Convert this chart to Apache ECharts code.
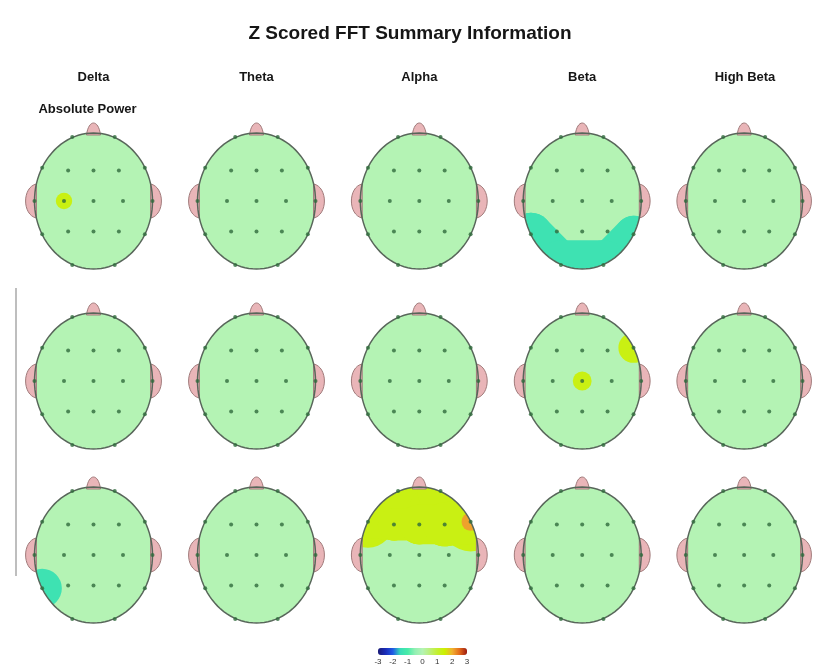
<!DOCTYPE html>
<html><head><meta charset="utf-8">
<script src="https://cdn.jsdelivr.net/npm/echarts@6/dist/echarts.min.js"></script>
<style>html,body{margin:0;padding:0;background:#fff}#c{width:820px;height:670px}</style>
</head><body><div id="c"></div><script>
// ---------------- data ----------------
const chartTitle = 'Z Scored FFT Summary Information';
const bands = ['Delta', 'Theta', 'Alpha', 'Beta', 'High Beta'];
const rowLabels = ['Absolute Power', '', ''];
const electrodes = ['Fp1','Fp2','F7','F3','Fz','F4','F8','T3','C3','Cz','C4','T4','T5','P3','Pz','P4','T6','O1','O2'];
// 10-20 montage positions on a unit head (x right, y towards nose)
const electrodeX = [-0.36, 0.36, -0.87, -0.43, 0, 0.43, 0.87, -1, -0.5, 0, 0.5, 1, -0.87, -0.43, 0, 0.43, 0.87, -0.36, 0.36];
const electrodeY = [0.94, 0.94, 0.49, 0.45, 0.45, 0.45, 0.49, 0, 0, 0, 0, 0, -0.49, -0.45, -0.45, -0.45, -0.49, -0.94, -0.94];
const scaleTicks = ['-3', '-2', '-1', '0', '1', '2', '3'];

// Z scores per electrode (order of `electrodes`)
//                  Fp1  Fp2  F7   F3   Fz   F4   F8   T3  C3    Cz   C4  T4  T5    P3 Pz P4 T6    O1    O2
const zR1Delta  = [0,   0,   0,   0,   0,   0,   0,   0,  1.06, 0,   0,  0,  0,    0, 0, 0, 0,    0,    0];
const zR1Theta  = [0,   0,   0,   0,   0,   0,   0,   0,  0,    0,   0,  0,  0,    0, 0, 0, 0,    0,    0];
const zR1Alpha  = [0,   0,   0,   0,   0,   0,   0,   0,  0,    0,   0,  0,  0,    0, 0, 0, 0,    0,    0];
const zR1Beta   = [0,   0,   0,   0,   0,   0,   0,   0,  0,    0,   0,  0, -1.5,  0, 0, 0, -1.35, -1.7, -1.7];
const zR1HiBeta = [0,   0,   0,   0,   0,   0,   0,   0,  0,    0,   0,  0,  0,    0, 0, 0, 0,    0,    0];
const zR2Delta  = [0,   0,   0,   0,   0,   0,   0,   0,  0,    0,   0,  0,  0,    0, 0, 0, 0,    0,    0];
const zR2Theta  = [0,   0,   0,   0,   0,   0,   0,   0,  0,    0,   0,  0,  0,    0, 0, 0, 0,    0,    0];
const zR2Alpha  = [0,   0,   0,   0,   0,   0,   0,   0,  0,    0,   0,  0,  0,    0, 0, 0, 0,    0,    0];
const zR2Beta   = [0,   0,   0,   0,   0,   0,   1.22,0,  0,    1.08,0,  0,  0,    0, 0, 0, 0,    0,    0];
const zR2HiBeta = [0,   0,   0,   0,   0,   0,   0,   0,  0,    0,   0,  0,  0,    0, 0, 0, 0,    0,    0];
const zR3Delta  = [0,   0,   0,   0,   0,   0,   0,   0,  0,    0,   0,  0, -1.4,  0, 0, 0, 0,    0,    0];
const zR3Theta  = [0,   0,   0,   0,   0,   0,   0,   0,  0,    0,   0,  0,  0,    0, 0, 0, 0,    0,    0];
const zR3Alpha  = [1.6, 1.6, 1.8, 1.25,1.41,1.52,2.15,0,  0,    0,   0,  0,  0,    0, 0, 0, 0,    0,    0];
const zR3Beta   = [0,   0,   0,   0,   0,   0,   0,   0,  0,    0,   0,  0,  0,    0, 0, 0, 0,    0,    0];
const zR3HiBeta = [0,   0,   0,   0,   0,   0,   0,   0,  0,    0,   0,  0,  0,    0, 0, 0, 0,    0,    0];

const maps = [
  [zR1Delta, zR1Theta, zR1Alpha, zR1Beta, zR1HiBeta],
  [zR2Delta, zR2Theta, zR2Alpha, zR2Beta, zR2HiBeta],
  [zR3Delta, zR3Theta, zR3Alpha, zR3Beta, zR3HiBeta]
];

// ---------------- rendering setup ----------------
const FONT = 'Liberation Sans, Arial, sans-serif';
const COL_X = [93.5, 256.5, 419.3, 582.2, 745];
const ROW_Y = [201, 381, 555];
const RX = 59, RY = 68, EXT = 1.3;
const BLOB_SIGMA = 24;       // px, spread of an electrode's deviation
const levels = [{ t: 1, c: 1.3 }, { t: 2, c: 2.1 }];
const palette = ['#1a1a78','#1a2cb8','#1f5ae6','#38dcb8','#48eca8','#94f0b4','#b4f3b4',
                 '#bcf078','#c4f030','#ccf000','#f0b030','#e46a1a','#9a1a10'];
const neighbours = [
  ['Fp1','Fp2'],['Fp1','F7'],['Fp1','F3'],['Fp1','Fz'],['Fp2','Fz'],['Fp2','F4'],['Fp2','F8'],
  ['F7','F3'],['F3','Fz'],['Fz','F4'],['F4','F8'],['F7','T3'],['F7','C3'],['F3','C3'],['F3','Cz'],
  ['Fz','Cz'],['F4','Cz'],['F4','C4'],['F8','C4'],['F8','T4'],['T3','C3'],['C3','Cz'],['Cz','C4'],
  ['C4','T4'],['T3','T5'],['C3','T5'],['C3','P3'],['Cz','P3'],['Cz','Pz'],['Cz','P4'],['C4','P4'],
  ['C4','T6'],['T4','T6'],['T5','P3'],['P3','Pz'],['Pz','P4'],['P4','T6'],['T5','O1'],['P3','O1'],
  ['Pz','O1'],['Pz','O2'],['P4','O2'],['T6','O2'],['O1','O2']
];
const idx = n => electrodes.indexOf(n);

function blobItems(z) {
  const out = [];
  levels.forEach(lv => {
    [1, -1].forEach(sign => {
      const r = z.map(v => (sign * v >= lv.t) ? BLOB_SIGMA * Math.sqrt(2 * Math.log(sign * v / lv.t)) : 0);
      z.forEach((v, i) => {
        if (r[i] > 0) out.push([electrodeX[i], electrodeY[i], sign * lv.c, electrodeX[i], electrodeY[i], r[i]]);
      });
      neighbours.forEach(([a, b]) => {
        const ia = idx(a), ib = idx(b);
        if (r[ia] > 0 && r[ib] > 0)
          out.push([electrodeX[ia], electrodeY[ia], sign * lv.c, electrodeX[ib], electrodeY[ib], Math.min(r[ia], r[ib])]);
      });
    });
  });
  return out;
}

function ellipseGeom(api) {
  const c = api.coord([0, 0]), e = api.coord([1, 1]);
  return { cx: c[0], cy: c[1], rx: e[0] - c[0], ry: c[1] - e[1] };
}
function ellipsePath(g, reverse) {
  let d = '';
  const n = 96;
  for (let i = 0; i <= n; i++) {
    const a = (reverse ? -1 : 1) * i * 2 * Math.PI / n;
    const x = g.cx + g.rx * Math.cos(a), y = g.cy + g.ry * Math.sin(a);
    d += (i === 0 ? 'M' : 'L') + x.toFixed(2) + ' ' + y.toFixed(2) + ' ';
  }
  return d + 'Z';
}

const grids = [], xAxes = [], yAxes = [], series = [], headIdx = [];
maps.forEach((row, r) => {
  row.forEach((z, c) => {
    const k = r * 5 + c;
    const cx = COL_X[c], cy = ROW_Y[r];
    grids.push({ left: cx - EXT * RX, top: cy - EXT * RY, width: 2 * EXT * RX, height: 2 * EXT * RY });
    xAxes.push({ type: 'value', gridIndex: k, min: -EXT, max: EXT, show: false });
    yAxes.push({ type: 'value', gridIndex: k, min: -EXT, max: EXT, show: false });
    // head surface (z = 0 colour)
    headIdx.push(series.length);
    series.push({
      type: 'custom', xAxisIndex: k, yAxisIndex: k, z: 1, silent: true,
      dimensions: ['x', 'y', 'z'], encode: { x: 0, y: 1 },
      data: [[0, 0, 0]],
      renderItem: (p, api) => ({ type: 'path', shape: { pathData: ellipsePath(ellipseGeom(api)) },
        style: { fill: api.visual('color') } })
    });
    // deviation blobs
    headIdx.push(series.length);
    series.push({
      type: 'custom', xAxisIndex: k, yAxisIndex: k, z: 2, silent: true,
      dimensions: ['x1', 'y1', 'z', 'x2', 'y2', 'r'], encode: { x: [0, 3], y: [1, 4] },
      data: blobItems(z),
      renderItem: (p, api) => {
        const p1 = api.coord([api.value(0), api.value(1)]);
        const p2 = api.coord([api.value(3), api.value(4)]);
        const rr = api.value(5), col = api.visual('color');
        if (Math.abs(p1[0] - p2[0]) < 0.01 && Math.abs(p1[1] - p2[1]) < 0.01)
          return { type: 'circle', shape: { cx: p1[0], cy: p1[1], r: rr }, style: { fill: col } };
        return { type: 'line', shape: { x1: p1[0], y1: p1[1], x2: p2[0], y2: p2[1] },
          style: { stroke: col, lineWidth: 2 * rr, lineCap: 'round', fill: null } };
      }
    });
    // white mask outside the scalp
    series.push({
      type: 'custom', xAxisIndex: k, yAxisIndex: k, z: 3, silent: true,
      data: [[0, 0]],
      renderItem: (p, api) => {
        const g = ellipseGeom(api);
        const tl = api.coord([-1.42, 1.36]), br = api.coord([1.42, -1.36]);
        const d = `M${tl[0]} ${tl[1]} L${br[0]} ${tl[1]} L${br[0]} ${br[1]} L${tl[0]} ${br[1]} Z ` + ellipsePath(g, true);
        return { type: 'path', shape: { pathData: d }, style: { fill: '#ffffff' } };
      }
    });
    // ears, nose, outline
    series.push({
      type: 'custom', xAxisIndex: k, yAxisIndex: k, z: 4, silent: true,
      data: [[0, 0]],
      renderItem: (p, api) => {
        const g = ellipseGeom(api);
        const a = g.rx * 0.968, eh = 17, ex = g.rx + 12.5;
        const earStyle = { fill: '#e9b5b8', stroke: '#a07a7a', lineWidth: 1 };
        const left = `M${g.cx - a} ${g.cy - eh} C${g.cx - ex} ${g.cy - 14} ${g.cx - ex} ${g.cy + 14} ${g.cx - a} ${g.cy + eh} Z`;
        const right = `M${g.cx + a} ${g.cy - eh} C${g.cx + ex} ${g.cy - 14} ${g.cx + ex} ${g.cy + 14} ${g.cx + a} ${g.cy + eh} Z`;
        const top = g.cy - g.ry;
        const nose = `M${g.cx - 7} ${top + 2} C${g.cx - 5} ${top - 14} ${g.cx + 5} ${top - 14} ${g.cx + 7} ${top + 2} Z`;
        return { type: 'group', children: [
          { type: 'path', shape: { pathData: left }, style: earStyle },
          { type: 'path', shape: { pathData: right }, style: earStyle },
          { type: 'path', shape: { pathData: nose }, style: earStyle },
          { type: 'path', shape: { pathData: ellipsePath(g) }, style: { fill: null, stroke: '#58665a', lineWidth: 1.5 } }
        ] };
      }
    });
    // electrode sites
    series.push({
      type: 'scatter', xAxisIndex: k, yAxisIndex: k, z: 5, silent: true,
      symbolSize: 4, itemStyle: { color: '#2f6a3c' },
      data: electrodes.map((n, i) => [electrodeX[i], electrodeY[i]])
    });
  });
});

// colour scale tick labels
const scaleGrid = grids.length;
grids.push({ left: 378, top: 656, width: 89, height: 1 });
xAxes.push({ type: 'category', gridIndex: scaleGrid, data: scaleTicks, boundaryGap: false,
  axisLine: { show: false }, axisTick: { show: false },
  axisLabel: { interval: 0, margin: 1, fontSize: 8, color: '#333', fontFamily: FONT } });
yAxes.push({ type: 'value', gridIndex: scaleGrid, show: false });
series.push({ type: 'scatter', xAxisIndex: scaleGrid, yAxisIndex: scaleGrid, data: [] });

const titles = [{ text: chartTitle, left: 'center', top: 24, padding: 0, z: 10,
  textStyle: { fontFamily: FONT, fontWeight: 'bold', fontSize: 19, color: '#161616' } }];
bands.forEach((b, c) => titles.push({ text: b, left: COL_X[c], top: 71, textAlign: 'center', padding: 0, z: 10,
  textStyle: { fontFamily: FONT, fontWeight: 'bold', fontSize: 13, color: '#161616' } }));
rowLabels.forEach((t, r) => { if (t) titles.push({ text: t, left: COL_X[0] - 6, top: ROW_Y[r] - 98, textAlign: 'center', padding: 0, z: 10,
  textStyle: { fontFamily: FONT, fontWeight: 'bold', fontSize: 13, color: '#161616' } }); });

const chart = echarts.init(document.getElementById('c'), null, { renderer: 'canvas' });
chart.setOption({
  backgroundColor: '#ffffff',
  animation: false,
  title: titles,
  grid: grids, xAxis: xAxes, yAxis: yAxes,
  visualMap: {
    type: 'continuous', min: -3, max: 3, dimension: 2, seriesIndex: headIdx,
    orient: 'horizontal', left: 378, top: 648, itemWidth: 7, itemHeight: 89,
    calculable: false, padding: 0, text: null, hoverLink: false,
    inRange: { color: palette }
  },
  graphic: [{ type: 'line', z: 10, shape: { x1: 16, y1: 288, x2: 16, y2: 576 }, style: { stroke: '#a8a8a8', lineWidth: 1.5 } }],
  series: series
});
</script></body></html>
